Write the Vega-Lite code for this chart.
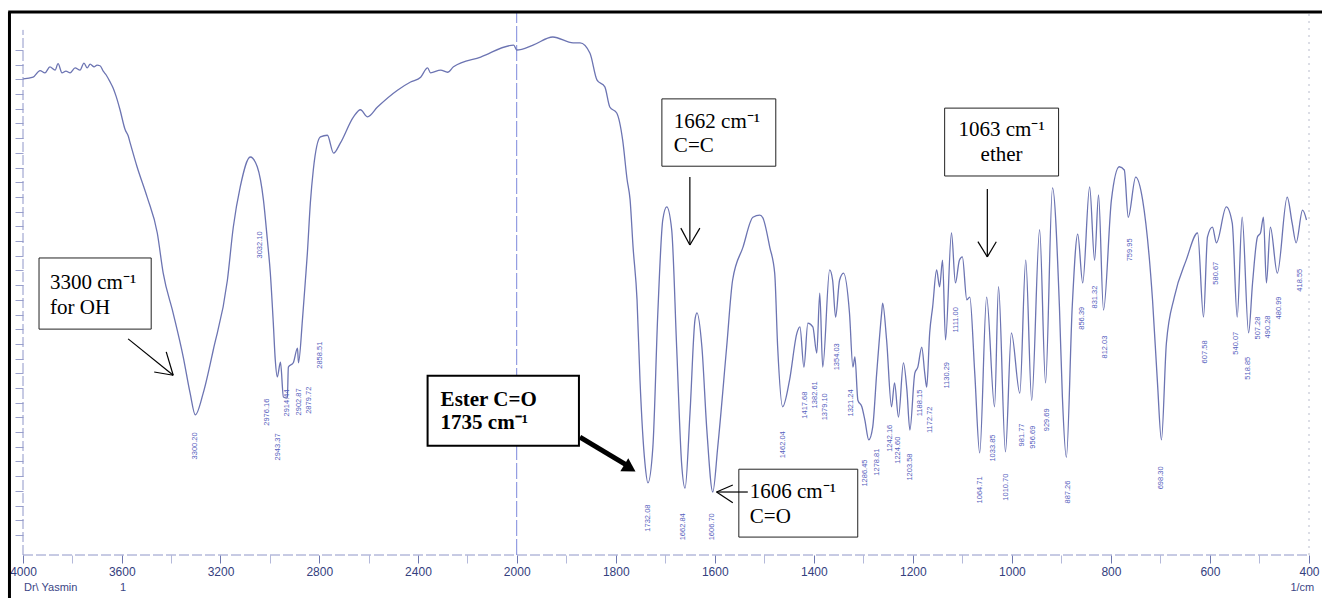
{
  "$schema": "https://vega.github.io/schema/vega-lite/v6.json",
  "width": 1314,
  "height": 543,
  "autosize": {"type": "none"},
  "padding": {"left": 8, "top": 12, "right": 0, "bottom": 43},
  "background": "white",
  "config": {"view": {"stroke": null}},
  "datasets": {
    "spec": [
      {"wn":3999,"T":87.7},{"wn":3959,"T":88.0},{"wn":3931,"T":89.2},{"wn":3911,"T":88.8},{"wn":3891,"T":89.9},{"wn":3870,"T":89.3},{"wn":3858,"T":90.5},{"wn":3842,"T":88.8},{"wn":3826,"T":89.1},{"wn":3809,"T":88.8},{"wn":3789,"T":89.7},{"wn":3769,"T":89.3},{"wn":3753,"T":90.6},{"wn":3740,"T":89.7},{"wn":3728,"T":90.4},{"wn":3712,"T":89.9},{"wn":3700,"T":90.2},{"wn":3688,"T":90.1},{"wn":3675,"T":89.1},{"wn":3663,"T":88.4},{"wn":3647,"T":87.1},{"wn":3635,"T":86.0},{"wn":3623,"T":84.5},{"wn":3607,"T":82.0},{"wn":3586,"T":78.3},{"wn":3574,"T":77.2},{"wn":3566,"T":75.9},{"wn":3538,"T":71.5},{"wn":3497,"T":65.9},{"wn":3456,"T":59.3},{"wn":3432,"T":51.9},{"wn":3392,"T":44.6},{"wn":3351,"T":36.5},{"wn":3323,"T":29.8},{"wn":3302,"T":25.8},{"wn":3270,"T":29.8},{"wn":3229,"T":37.8},{"wn":3172,"T":50.6},{"wn":3148,"T":60.4},{"wn":3120,"T":67.8},{"wn":3079,"T":73.3},{"wn":3051,"T":71.5},{"wn":3026,"T":65.4},{"wn":3010,"T":58.0},{"wn":2998,"T":51.9},{"wn":2986,"T":42.7},{"wn":2978,"T":35.9},{"wn":2970,"T":32.8},{"wn":2957,"T":35.5},{"wn":2945,"T":29.1},{"wn":2929,"T":28.9},{"wn":2925,"T":34.6},{"wn":2905,"T":35.4},{"wn":2888,"T":38.1},{"wn":2884,"T":35.4},{"wn":2868,"T":43.3},{"wn":2856,"T":50.6},{"wn":2848,"T":55.6},{"wn":2836,"T":64.8},{"wn":2824,"T":70.9},{"wn":2795,"T":77.0},{"wn":2767,"T":77.3},{"wn":2742,"T":74.0},{"wn":2714,"T":75.9},{"wn":2661,"T":80.7},{"wn":2633,"T":82.0},{"wn":2604,"T":80.7},{"wn":2564,"T":82.5},{"wn":2483,"T":85.6},{"wn":2430,"T":87.1},{"wn":2389,"T":88.0},{"wn":2361,"T":89.7},{"wn":2349,"T":88.8},{"wn":2308,"T":89.3},{"wn":2280,"T":88.9},{"wn":2256,"T":89.9},{"wn":2146,"T":91.7},{"wn":2012,"T":93.9},{"wn":2000,"T":93.0},{"wn":1967,"T":93.9},{"wn":1927,"T":95.4},{"wn":1886,"T":94.3},{"wn":1872,"T":94.3},{"wn":1852,"T":92.4},{"wn":1838,"T":87.5},{"wn":1822,"T":86.2},{"wn":1812,"T":82.5},{"wn":1798,"T":81.4},{"wn":1786,"T":76.4},{"wn":1777,"T":69.1},{"wn":1771,"T":65.4},{"wn":1765,"T":56.7},{"wn":1757,"T":47.0},{"wn":1751,"T":32.2},{"wn":1741,"T":16.9},{"wn":1735,"T":13.3},{"wn":1725,"T":19.9},{"wn":1715,"T":44.6},{"wn":1705,"T":61.7},{"wn":1697,"T":64.1},{"wn":1687,"T":59.9},{"wn":1677,"T":38.3},{"wn":1667,"T":16.9},{"wn":1660,"T":12.3},{"wn":1650,"T":26.2},{"wn":1640,"T":43.3},{"wn":1636,"T":44.6},{"wn":1626,"T":38.3},{"wn":1616,"T":23.0},{"wn":1604,"T":11.6},{"wn":1594,"T":19.9},{"wn":1576,"T":38.3},{"wn":1564,"T":50.6},{"wn":1543,"T":56.7},{"wn":1523,"T":62.2},{"wn":1509,"T":62.6},{"wn":1503,"T":62.1},{"wn":1489,"T":56.7},{"wn":1479,"T":51.9},{"wn":1473,"T":38.3},{"wn":1463,"T":27.3},{"wn":1449,"T":32.2},{"wn":1434,"T":40.9},{"wn":1428,"T":42.0},{"wn":1420,"T":34.6},{"wn":1412,"T":42.7},{"wn":1402,"T":42.0},{"wn":1394,"T":37.2},{"wn":1388,"T":48.2},{"wn":1382,"T":34.6},{"wn":1368,"T":52.5},{"wn":1362,"T":50.6},{"wn":1356,"T":43.8},{"wn":1348,"T":50.6},{"wn":1340,"T":51.9},{"wn":1328,"T":44.6},{"wn":1321,"T":34.6},{"wn":1317,"T":36.5},{"wn":1311,"T":28.5},{"wn":1303,"T":27.3},{"wn":1297,"T":24.9},{"wn":1289,"T":21.2},{"wn":1281,"T":23.6},{"wn":1273,"T":33.5},{"wn":1263,"T":44.6},{"wn":1261,"T":46.4},{"wn":1253,"T":39.6},{"wn":1243,"T":27.3},{"wn":1237,"T":31.7},{"wn":1229,"T":25.4},{"wn":1219,"T":35.4},{"wn":1212,"T":30.4},{"wn":1206,"T":23.0},{"wn":1196,"T":33.5},{"wn":1190,"T":34.6},{"wn":1182,"T":38.3},{"wn":1176,"T":33.5},{"wn":1172,"T":30.9},{"wn":1166,"T":40.9},{"wn":1160,"T":45.7},{"wn":1152,"T":52.5},{"wn":1146,"T":49.4},{"wn":1140,"T":54.3},{"wn":1134,"T":39.6},{"wn":1122,"T":59.3},{"wn":1114,"T":50.1},{"wn":1106,"T":54.3},{"wn":1100,"T":54.9},{"wn":1091,"T":47.0},{"wn":1085,"T":47.5},{"wn":1075,"T":33.5},{"wn":1065,"T":18.8},{"wn":1051,"T":47.5},{"wn":1035,"T":27.3},{"wn":1027,"T":49.4},{"wn":1013,"T":19.0},{"wn":1001,"T":40.9},{"wn":984,"T":29.8},{"wn":972,"T":54.3},{"wn":960,"T":28.5},{"wn":944,"T":59.9},{"wn":932,"T":31.7},{"wn":918,"T":67.6},{"wn":904,"T":45.7},{"wn":898,"T":29.1},{"wn":890,"T":18.0},{"wn":878,"T":46.0},{"wn":867,"T":59.1},{"wn":857,"T":50.1},{"wn":843,"T":67.8},{"wn":833,"T":54.3},{"wn":825,"T":66.3},{"wn":815,"T":45.1},{"wn":799,"T":65.4},{"wn":783,"T":71.5},{"wn":773,"T":70.9},{"wn":765,"T":62.2},{"wn":750,"T":69.6},{"wn":736,"T":65.4},{"wn":716,"T":47.0},{"wn":706,"T":31.7},{"wn":698,"T":21.2},{"wn":688,"T":39.0},{"wn":672,"T":47.5},{"wn":648,"T":54.3},{"wn":625,"T":59.3},{"wn":613,"T":43.8},{"wn":605,"T":58.6},{"wn":595,"T":60.4},{"wn":587,"T":57.5},{"wn":567,"T":64.1},{"wn":555,"T":61.1},{"wn":545,"T":43.8},{"wn":535,"T":62.2},{"wn":522,"T":40.9},{"wn":514,"T":50.1},{"wn":504,"T":58.6},{"wn":498,"T":59.3},{"wn":492,"T":62.2},{"wn":486,"T":50.1},{"wn":478,"T":60.4},{"wn":464,"T":51.9},{"wn":444,"T":65.9},{"wn":434,"T":61.1},{"wn":426,"T":57.5},{"wn":413,"T":63.5},{"wn":405,"T":61.7}
    ],
    "peaks": [
      {"wn":3302,"T":20.1,"label":"3300.20"},{"wn":3038,"T":57.1,"label":"3032.10"},{"wn":3010,"T":26.3,"label":"2976.16"},{"wn":2965,"T":19.9,"label":"2943.37"},{"wn":2929,"T":28.0,"label":"2914.44"},{"wn":2880,"T":28.2,"label":"2902.87"},{"wn":2840,"T":28.5,"label":"2879.72"},{"wn":2795,"T":36.8,"label":"2858.51"},
      {"wn":1735,"T":6.8,"label":"1732.08"},{"wn":1664,"T":5.2,"label":"1662.84"},{"wn":1606,"T":5.2,"label":"1606.70"},{"wn":1463,"T":20.3,"label":"1462.04"},{"wn":1418,"T":27.6,"label":"1417.68"},{"wn":1398,"T":29.5,"label":"1382.61"},{"wn":1378,"T":27.3,"label":"1379.10"},{"wn":1354,"T":36.5,"label":"1354.03"},{"wn":1324,"T":28.0,"label":"1321.24"},{"wn":1297,"T":15.1,"label":"1286.45"},{"wn":1273,"T":17.1,"label":"1278.81"},{"wn":1247,"T":21.5,"label":"1242.16"},{"wn":1229,"T":19.3,"label":"1224.60"},{"wn":1206,"T":16.2,"label":"1203.58"},{"wn":1186,"T":28.0,"label":"1188.15"},{"wn":1166,"T":24.9,"label":"1172.72"},{"wn":1132,"T":33.1,"label":"1130.29"},{"wn":1112,"T":43.3,"label":"1111.00"},{"wn":1065,"T":12.0,"label":"1064.71"},{"wn":1039,"T":19.7,"label":"1033.85"},{"wn":1011,"T":12.5,"label":"1010.70"},{"wn":980,"T":22.1,"label":"981.77"},{"wn":958,"T":21.7,"label":"956.69"},{"wn":930,"T":24.9,"label":"929.69"},{"wn":887,"T":11.6,"label":"887.26"},{"wn":859,"T":43.6,"label":"856.39"},{"wn":833,"T":47.5,"label":"831.32"},{"wn":812,"T":38.3,"label":"812.03"},{"wn":762,"T":56.2,"label":"759.95"},{"wn":698,"T":14.2,"label":"698.30"},{"wn":611,"T":37.4,"label":"607.58"},{"wn":587,"T":51.9,"label":"580.67"},{"wn":547,"T":39.0,"label":"540.07"},{"wn":524,"T":34.4,"label":"518.85"},{"wn":504,"T":41.8,"label":"507.28"},{"wn":482,"T":42.0,"label":"490.28"},{"wn":460,"T":45.5,"label":"480.99"},{"wn":419,"T":50.6,"label":"418.55"}
    ],
    "boxes": [
      {"wn":3935.1,"wn2":3480.7,"T":54.7,"T2":41.6},
      {"wn":1706.8,"wn2":1476.8,"T":84.0,"T2":71.6},
      {"wn":1551.4,"wn2":1311.3,"T":15.8,"T2":3.3},
      {"wn":1135.8,"wn2":905.7,"T":82.3,"T2":69.8}
    ],
    "boxBold": [
      {"wn":2361,"wn2":1874.3,"T":33.0,"T2":20.1}
    ],
    "txtL": [
      {"wn":3890.5,"T":50.1,"label":"3300 cm⁻¹"},
      {"wn":3890.5,"T":45.5,"label":"for OH"},
      {"wn":1682.6,"T":79.7,"label":"1662 cm⁻¹"},
      {"wn":1682.6,"T":75.3,"label":"C=C"},
      {"wn":1529.3,"T":11.6,"label":"1606 cm⁻¹"},
      {"wn":1529.3,"T":7.0,"label":"C=O"}
    ],
    "txtC": [
      {"wn":1020.8,"T":78.3,"label":"1063 cm⁻¹"},
      {"wn":1020.8,"T":73.7,"label":"ether"}
    ],
    "txtB": [
      {"wn":2308.2,"T":28.5,"label":"Ester C=O"},
      {"wn":2308.2,"T":24.3,"label":"1735 cm⁻¹"}
    ],
    "arrows": [
      {"wn":3574.0,"T":39.8,"wn2":3391.5,"T2":33.1},
      {"wn":3468.5,"T":33.7,"wn2":3391.5,"T2":33.1},
      {"wn":3419.8,"T":37.4,"wn2":3391.5,"T2":33.1},
      {"wn":1650.3,"T":69.6,"wn2":1650.3,"T2":57.1},
      {"wn":1668.5,"T":60.2,"wn2":1650.3,"T2":57.1},
      {"wn":1630.1,"T":60.2,"wn2":1650.3,"T2":57.1},
      {"wn":1533.3,"T":11.6,"wn2":1596.4,"T2":11.6},
      {"wn":1563.6,"T":12.9,"wn2":1596.4,"T2":11.6},
      {"wn":1563.6,"T":9.6,"wn2":1596.4,"T2":11.6},
      {"wn":1049.6,"T":67.4,"wn2":1049.6,"T2":54.9},
      {"wn":1068.6,"T":57.7,"wn2":1049.6,"T2":54.9},
      {"wn":1031.5,"T":57.7,"wn2":1049.6,"T2":54.9}
    ],
    "thick": [
      {"wn":1872.3,"T":21.7,"wn2":1775.4,"T2":16.4}
    ],
    "head": [
      {"wn":1771.4,"T":16.0}
    ],
    "axlines": [
      {"wn":4000,"T":0,"wn2":400,"T2":0},
      {"wn":4000,"T":0,"wn2":4000,"T2":96.7}
    ],
    "line2000": [
      {"wn":2000,"T":0,"wn2":2000,"T2":100}
    ],
    "line400": [
      {"wn":400,"T":0,"wn2":400,"T2":100}
    ],
    "border": [
      {"wn":4060,"T":100,"wn2":370,"T2":100},
      {"wn":4054.8,"T":100,"wn2":4054.8,"T2":-8.5}
    ],
    "footer": [
      {"wn":3996,"T":-6.0,"label":"Dr\\ Yasmin"},
      {"wn":3607,"T":-6.0,"label":"1"},
      {"wn":437.6,"T":-6.0,"label":"1/cm"}
    ]
  },
  "encoding": {
    "x": {
      "field": "wn",
      "type": "quantitative",
      "scale": {"domain": [4000, 2000, 400], "range": [15, 508.7, 1301], "nice": false, "zero": false},
      "axis": {
        "title": null,
        "domain": false,
        "grid": false,
        "values": [4000,3800,3600,3400,3200,3000,2800,2600,2400,2200,2000,1900,1800,1700,1600,1500,1400,1300,1200,1100,1000,900,800,700,600,500,400],
        "labelExpr": "indexof([4000,3600,3200,2800,2400,2000,1800,1600,1400,1200,1000,800,600,400], datum.value) >= 0 ? datum.value + '' : ''",
        "tickSize": 8,
        "tickColor": {"condition": {"test": "indexof([4000,3600,3200,2800,2400,2000,1800,1600,1400,1200,1000,800,600,400], datum.value) >= 0", "value": "#6f78b0"}, "value": "#b4b9da"},
        "labelFont": "Liberation Sans",
        "labelFontSize": 12,
        "labelColor": "#34407e",
        "labelPadding": 3,
        "labelFlush": false,
        "labelOverlap": false
      }
    },
    "y": {
      "field": "T",
      "type": "quantitative",
      "scale": {"domain": [0, 100], "nice": false, "zero": false},
      "axis": {
        "title": null,
        "domain": false,
        "grid": false,
        "labels": false,
        "offset": -15,
        "tickSize": 8,
        "tickColor": "#9aa0cc",
        "values": [3.68,6.39,9.1,11.8,14.51,17.22,19.93,22.63,25.34,28.05,30.75,33.46,36.17,38.87,41.58,44.29,47.0,49.7,52.41,55.12,57.82,60.53,63.24,65.94,68.65,71.36,74.07,76.77,79.48,82.19,84.89,87.6,90.31,93.01]
      }
    }
  },
  "layer": [
    {
      "data": {"name": "axlines"},
      "mark": {"type": "rule", "color": "#8f96c8", "strokeWidth": 1, "strokeDash": [10, 3]},
      "encoding": {"x2": {"field": "wn2"}, "y2": {"field": "T2"}}
    },
    {
      "data": {"name": "line2000"},
      "mark": {"type": "rule", "color": "#7d88dc", "strokeWidth": 1, "strokeDash": [16, 3]},
      "encoding": {"x2": {"field": "wn2"}, "y2": {"field": "T2"}}
    },
    {
      "data": {"name": "line400"},
      "mark": {"type": "rule", "color": "#b8bccc", "strokeWidth": 1, "strokeDash": [2, 5]},
      "encoding": {"x2": {"field": "wn2"}, "y2": {"field": "T2"}}
    },
    {
      "data": {"name": "spec"},
      "mark": {"type": "line", "color": "#6c74b2", "strokeWidth": 1.3, "interpolate": "monotone"}
    },
    {
      "data": {"name": "peaks"},
      "mark": {"type": "text", "angle": 270, "font": "Liberation Sans", "fontSize": 7.5, "color": "#5560bd", "align": "center", "baseline": "middle"},
      "encoding": {"text": {"field": "label"}}
    },
    {
      "data": {"name": "boxes"},
      "mark": {"type": "rect", "fill": "white", "stroke": "#222222", "strokeWidth": 1},
      "encoding": {"x2": {"field": "wn2"}, "y2": {"field": "T2"}}
    },
    {
      "data": {"name": "boxBold"},
      "mark": {"type": "rect", "fill": "white", "stroke": "black", "strokeWidth": 2},
      "encoding": {"x2": {"field": "wn2"}, "y2": {"field": "T2"}}
    },
    {
      "data": {"name": "txtL"},
      "mark": {"type": "text", "font": "Liberation Serif", "fontSize": 21, "color": "black", "align": "left", "baseline": "middle"},
      "encoding": {"text": {"field": "label"}}
    },
    {
      "data": {"name": "txtC"},
      "mark": {"type": "text", "font": "Liberation Serif", "fontSize": 21, "color": "black", "align": "center", "baseline": "middle"},
      "encoding": {"text": {"field": "label"}}
    },
    {
      "data": {"name": "txtB"},
      "mark": {"type": "text", "font": "Liberation Serif", "fontSize": 21, "fontWeight": "bold", "color": "black", "align": "left", "baseline": "middle"},
      "encoding": {"text": {"field": "label"}}
    },
    {
      "data": {"name": "arrows"},
      "mark": {"type": "rule", "color": "black", "strokeWidth": 1.2},
      "encoding": {"x2": {"field": "wn2"}, "y2": {"field": "T2"}}
    },
    {
      "data": {"name": "thick"},
      "mark": {"type": "rule", "color": "black", "strokeWidth": 5},
      "encoding": {"x2": {"field": "wn2"}, "y2": {"field": "T2"}}
    },
    {
      "data": {"name": "head"},
      "mark": {"type": "point", "shape": "triangle-right", "filled": true, "color": "black", "opacity": 1, "size": 230, "angle": 31.6}
    },
    {
      "data": {"name": "border"},
      "mark": {"type": "rule", "color": "black", "strokeWidth": 3},
      "encoding": {"x2": {"field": "wn2"}, "y2": {"field": "T2"}}
    },
    {
      "data": {"name": "footer"},
      "mark": {"type": "text", "font": "Liberation Sans", "fontSize": 11, "color": "#3b4686", "align": "left", "baseline": "middle"},
      "encoding": {"text": {"field": "label"}}
    }
  ]
}
